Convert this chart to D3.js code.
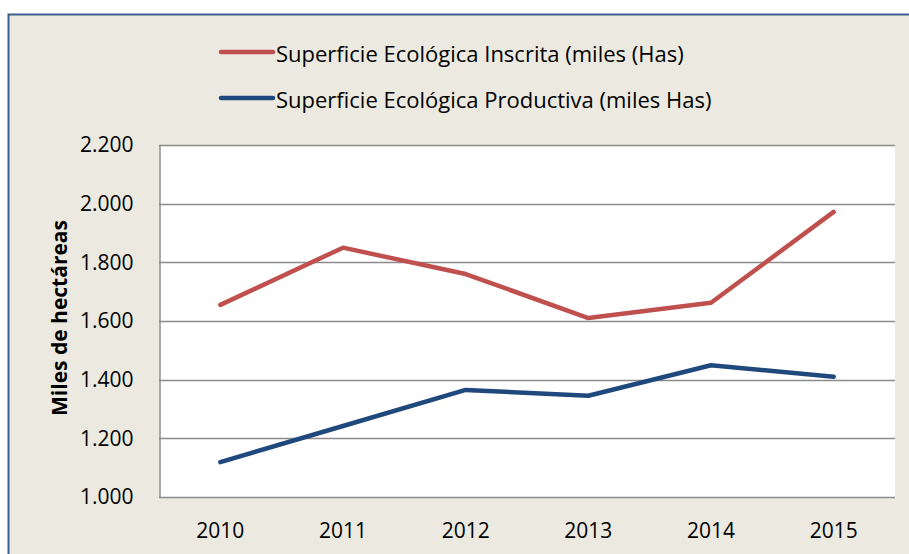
<!DOCTYPE html>
<html>
<head>
<meta charset="utf-8">
<script src="https://cdn.jsdelivr.net/npm/d3@7"></script>
<style>
  body { margin: 0; background: #fff; }
  svg text { font-family: "Open Sans", "Noto Sans", sans-serif; fill: #000; }
</style>
</head>
<body>
<div id="chart"></div>
<script>
const years = ["2010", "2011", "2012", "2013", "2014", "2015"];
const inscrita = [1655, 1850, 1760, 1610, 1662, 1972];
const productiva = [1119, 1242, 1365, 1345, 1449, 1410];
const seriesNames = ["Superficie Ecológica Inscrita (miles (Has)", "Superficie Ecológica Productiva (miles Has)"];
const seriesColors = ["#C0504D", "#1F497D"];
const yTicks = [1000, 1200, 1400, 1600, 1800, 2000, 2200];

const w = 909;
const h = 554;
const plot = {left: 159, top: 145, right: 895, bottom: 497};
const fontSize = "21px";

const svg = d3.select("#chart")
              .append("svg")
              .attr("width", w)
              .attr("height", h);

// chart area background + frame
svg.append("rect")
   .attr("x", 8.5).attr("y", 14.5)
   .attr("width", w + 10).attr("height", h + 10)
   .attr("fill", "#ECEAE0")
   .attr("stroke", "#3B5F8E")
   .attr("stroke-width", 2);

svg.append("rect")
   .attr("x", plot.left).attr("y", plot.top)
   .attr("width", plot.right - plot.left).attr("height", plot.bottom - plot.top)
   .attr("fill", "#fff");

const xScale = d3.scaleBand()
                 .domain(years)
                 .range([plot.left, plot.right]);

const yScale = d3.scaleLinear()
                 .domain([1000, 2200])
                 .range([plot.bottom, plot.top]);

// gridlines
svg.append("g")
   .selectAll("line")
   .data(yTicks)
   .enter().append("line")
   .attr("x1", plot.left).attr("x2", plot.right)
   .attr("y1", d => Math.round(yScale(d)) + 0.5)
   .attr("y2", d => Math.round(yScale(d)) + 0.5)
   .attr("stroke", "#8C8C8C")
   .attr("stroke-width", 1.5);

// y axis
const yAxis = d3.axisLeft(yScale)
                .tickValues(yTicks)
                .tickSize(0)
                .tickPadding(26)
                .tickFormat(d => d3.format(",")(d).replace(",", "."));

const yG = svg.append("g")
              .attr("transform", `translate(${plot.left + 0.5}, 0)`)
              .call(yAxis);
yG.select(".domain").attr("stroke", "#8C8C8C").attr("stroke-width", 1.5);
yG.selectAll("text").style("font-size", fontSize);

// x axis
const xAxis = d3.axisBottom(xScale).tickSize(0).tickPadding(26);
const xG = svg.append("g")
              .attr("transform", `translate(0, ${plot.bottom})`)
              .call(xAxis);
xG.select(".domain").remove();
xG.selectAll("text").style("font-size", fontSize);

// y label
svg.append("text")
   .attr("text-anchor", "middle")
   .attr("transform", `translate(67, ${(plot.top + plot.bottom) / 2 - 3}) rotate(-90)`)
   .style("font-size", fontSize)
   .style("font-weight", "bold")
   .text("Miles de hectáreas");

// lines
const line = d3.line()
               .x((d, i) => xScale(years[i]) + xScale.bandwidth() / 2)
               .y(d => yScale(d));

[inscrita, productiva].forEach((vals, i) => {
    svg.append("path")
       .datum(vals)
       .attr("d", line)
       .attr("fill", "none")
       .attr("stroke", seriesColors[i])
       .attr("stroke-width", 4.5)
       .attr("stroke-linecap", "round")
       .attr("stroke-linejoin", "round");
});

// legend
const legend = svg.append("g")
                  .selectAll("g")
                  .data(seriesNames)
                  .enter().append("g")
                  .attr("transform", (d, i) => `translate(221, ${52 + i * 46})`);

legend.append("line")
      .attr("x1", 0).attr("x2", 52)
      .attr("stroke", (d, i) => seriesColors[i])
      .attr("stroke-width", 4.5)
      .attr("stroke-linecap", "round");

legend.append("text")
      .attr("x", 55)
      .attr("dy", "0.45em")
      .style("font-size", "22px")
      .text(d => d);
</script>
</body>
</html>
